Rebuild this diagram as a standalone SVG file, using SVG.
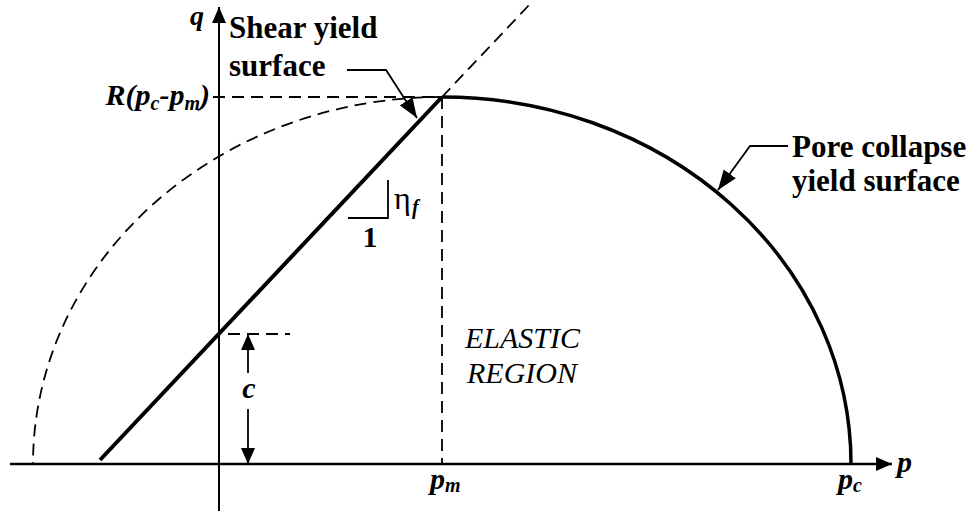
<svg xmlns="http://www.w3.org/2000/svg" width="977" height="511" viewBox="0 0 977 511">
<style>
text{font-family:"Liberation Serif","Times New Roman",serif;fill:#000}
.b{font-weight:bold;font-size:31px}
.bi{font-weight:bold;font-style:italic;font-size:30px}
.it{font-style:italic;font-size:30px}
.sub{font-size:20px}
.dash{fill:none;stroke:#000;stroke-width:1.8;stroke-dasharray:12 7}
.thin{fill:none;stroke:#000;stroke-width:1.8}
</style>
<defs>
<marker id="ah" markerUnits="userSpaceOnUse" markerWidth="20" markerHeight="15" refX="20" refY="7.5" orient="auto">
<path d="M0,0 L20,7.5 L0,15 z" fill="#000"/>
</marker>
<marker id="ax" markerUnits="userSpaceOnUse" markerWidth="16" markerHeight="14" refX="16" refY="7" orient="auto">
<path d="M0,0 L16,7 L0,14 z" fill="#000"/>
</marker>
</defs>
<rect width="977" height="511" fill="#fff"/>
<g id="axes">
<line x1="10" y1="464" x2="892" y2="464" stroke="#000" stroke-width="2.5" marker-end="url(#ax)"/>
<line x1="219" y1="511" x2="219" y2="7" stroke="#000" stroke-width="2" marker-end="url(#ax)"/>
</g>
<g id="guides">
<line class="dash" x1="213" y1="97" x2="442" y2="97"/>
<line class="dash" x1="442" y1="97" x2="442" y2="464"/>
<line class="dash" x1="228" y1="334" x2="290" y2="334"/>
<line class="dash" x1="442" y1="97" x2="531" y2="3"/>
<path class="dash" d="M442,97 A409,367 0 0 0 33,464"/>
</g>
<g id="shear-yield-surface">
<line x1="100" y1="460" x2="442" y2="97" stroke="#000" stroke-width="4"/>
</g>
<g id="pore-collapse-yield-surface">
<path d="M442,97 A409,367 0 0 1 851,464" fill="none" stroke="#000" stroke-width="3.5"/>
</g>
<g id="slope-triangle">
<polyline class="thin" points="348,218 388,218 388,180"/>
<text x="394" y="209" style="font-size:32px">η</text>
<text x="412" y="214" class="sub" font-style="italic" font-weight="bold">f</text>
<text x="370" y="247" class="b" text-anchor="middle" style="font-size:30px">1</text>
</g>
<g id="connectors">
<polyline class="thin" points="347,70 386,70 417,118" marker-end="url(#ah)"/>
<polyline class="thin" points="788,146 750,146 718,190" marker-end="url(#ah)"/>
<line class="thin" x1="248" y1="373" x2="248" y2="334" marker-end="url(#ax)"/>
<line class="thin" x1="248" y1="409" x2="248" y2="464" marker-end="url(#ax)"/>
</g>
<g id="labels">
<text x="190" y="25" class="bi" style="font-size:28px">q</text>
<text x="897" y="472" class="bi">p</text>
<text x="229" y="38" class="b">Shear yield</text>
<text x="229" y="76" class="b">surface</text>
<text x="210" y="105" class="bi" text-anchor="end">R(p<tspan class="sub" dy="5">c</tspan><tspan dy="-5">-p</tspan><tspan class="sub" dy="5">m</tspan><tspan dy="-5">)</tspan></text>
<text x="792" y="157" class="b">Pore collapse</text>
<text x="792" y="191" class="b">yield surface</text>
<text x="465" y="348" class="it">ELASTIC</text>
<text x="467" y="383" class="it">REGION</text>
<text x="249" y="398" class="bi" text-anchor="middle">c</text>
<text x="430" y="489" class="bi">p<tspan class="sub" dy="3">m</tspan></text>
<text x="838" y="489" class="bi">p<tspan class="sub" dy="3">c</tspan></text>
</g>
</svg>
